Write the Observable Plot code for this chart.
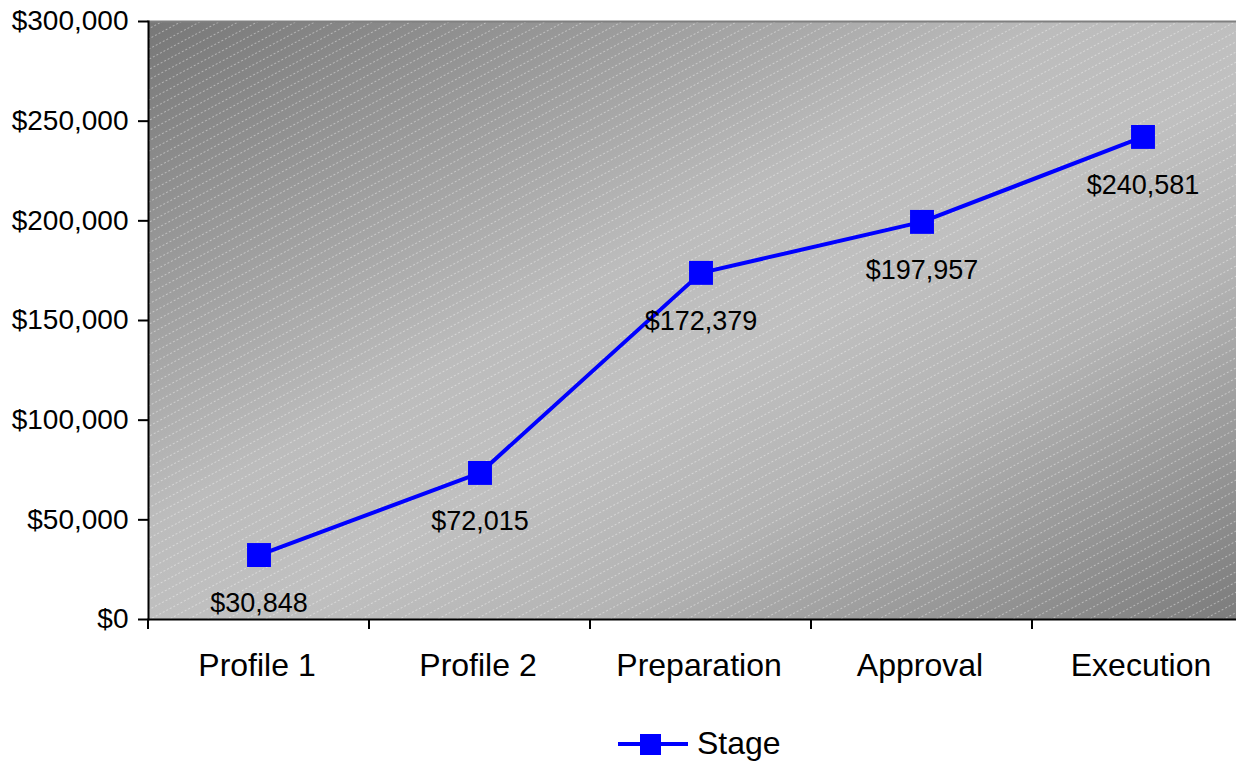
<!DOCTYPE html>
<html>
<head>
<meta charset="utf-8">
<script src="https://cdn.jsdelivr.net/npm/d3@7"></script>
<script src="https://cdn.jsdelivr.net/npm/@observablehq/plot@0.6"></script>
<style>
  html, body { margin: 0; padding: 0; background: #fff; font-family: "Liberation Sans", Arial, sans-serif; }
  #wrap { position: relative; width: 1236px; height: 765px; }
  #legend { position: absolute; left: 618px; top: 725px; display: flex; align-items: center; font-size: 32px; color: #000; }
  #legend svg { display: block; margin-right: 7px; }
</style>
</head>
<body>
<div id="wrap">
  <div id="chart"></div>
  <div id="legend"></div>
</div>
<script>
const categories = ["Profile 1", "Profile 2", "Preparation", "Approval", "Execution"];
const values = [30848, 72015, 172379, 197957, 240581];
const yTicks = [0, 50000, 100000, 150000, 200000, 250000, 300000];
const seriesName = "Stage";

const data = categories.map((c, i) => ({stage: c, value: values[i]}));
const money = d => "$" + d3.format(",")(d);

const plot = Plot.plot({
  width: 1236,
  height: 700,
  marginLeft: 148,
  marginRight: 0,
  marginTop: 21,
  marginBottom: 81,
  style: {fontFamily: "'Liberation Sans', Arial, sans-serif", background: "transparent", color: "#000"},
  x: {type: "band", domain: categories, range: [148, 1253], padding: 0},
  y: {domain: [0, 300000]},
  marks: [
    Plot.frame({fill: "url(#bggrad)", stroke: "none"}),
    Plot.frame({fill: "url(#hatch)", stroke: "none"}),
    Plot.frame({anchor: "top", stroke: "#808080", strokeWidth: 2}),
    Plot.axisY({ticks: yTicks, tickFormat: money, tickSize: 10, tickPadding: 10, fontSize: 28, strokeWidth: 2, stroke: "#000", label: null}),
    Plot.axisX({tickSize: 0, tickPadding: 34, fontSize: 32, label: null, dx: -2}),
    Plot.frame({anchor: "left", stroke: "#000", strokeWidth: 2}),
    Plot.frame({anchor: "bottom", stroke: "#000", strokeWidth: 2}),
    Plot.line(data, {x: "stage", y: "value", stroke: "#0000ff", strokeWidth: 4, dy: -3}),
    Plot.dot(data, {x: "stage", y: "value", symbol: "square", r: 13.5, fill: "#0000ff", stroke: "none", dy: -3}),
    Plot.text(data, {x: "stage", y: "value", text: d => money(d.value), dy: 45, fontSize: 27, fill: "#000"})
  ]
});

const svg = d3.select(plot);
const defs = svg.insert("defs", ":first-child");
const grad = defs.append("linearGradient").attr("id", "bggrad")
  .attr("x1", 0).attr("y1", 0).attr("x2", 1).attr("y2", 1);
[[0, "#777777"], [0.42, "#bcbcbc"], [0.55, "#c0c0c0"], [0.7, "#b4b4b4"], [1, "#7c7c7c"]]
  .forEach(([o, c]) => grad.append("stop").attr("offset", o).attr("stop-color", c));
const pat = defs.append("pattern").attr("id", "hatch").attr("patternUnits", "userSpaceOnUse")
  .attr("width", 40).attr("height", 9).attr("patternTransform", "rotate(-28)");
pat.append("line").attr("x1", 0).attr("y1", 4.5).attr("x2", 40).attr("y2", 4.5)
  .attr("stroke", "#ffffff").attr("stroke-opacity", 0.4).attr("stroke-width", 1).attr("stroke-dasharray", "2,2");

// category boundary ticks through the x scale
const xs = plot.scale("x");
const bw = xs.bandwidth;
const yPos = plot.scale("y").apply(0);
const bounds = categories.map(c => xs.apply(c)).concat([xs.apply(categories[categories.length - 1]) + bw]);
svg.append("g").selectAll("line").data(bounds).join("line")
  .attr("x1", d => d).attr("x2", d => d).attr("y1", yPos).attr("y2", yPos + 10)
  .attr("stroke", "#000").attr("stroke-width", 2);

document.getElementById("chart").appendChild(plot);

// legend
const leg = d3.select("#legend");
const ls = leg.append("svg").attr("width", 72).attr("height", 30);
ls.append("line").attr("x1", 0).attr("x2", 70).attr("y1", 15).attr("y2", 15).attr("stroke", "#0000ff").attr("stroke-width", 4);
ls.append("rect").attr("x", 22).attr("y", 5).attr("width", 21).attr("height", 21).attr("fill", "#0000ff");
leg.append("span").text(seriesName);
</script>
</body>
</html>
